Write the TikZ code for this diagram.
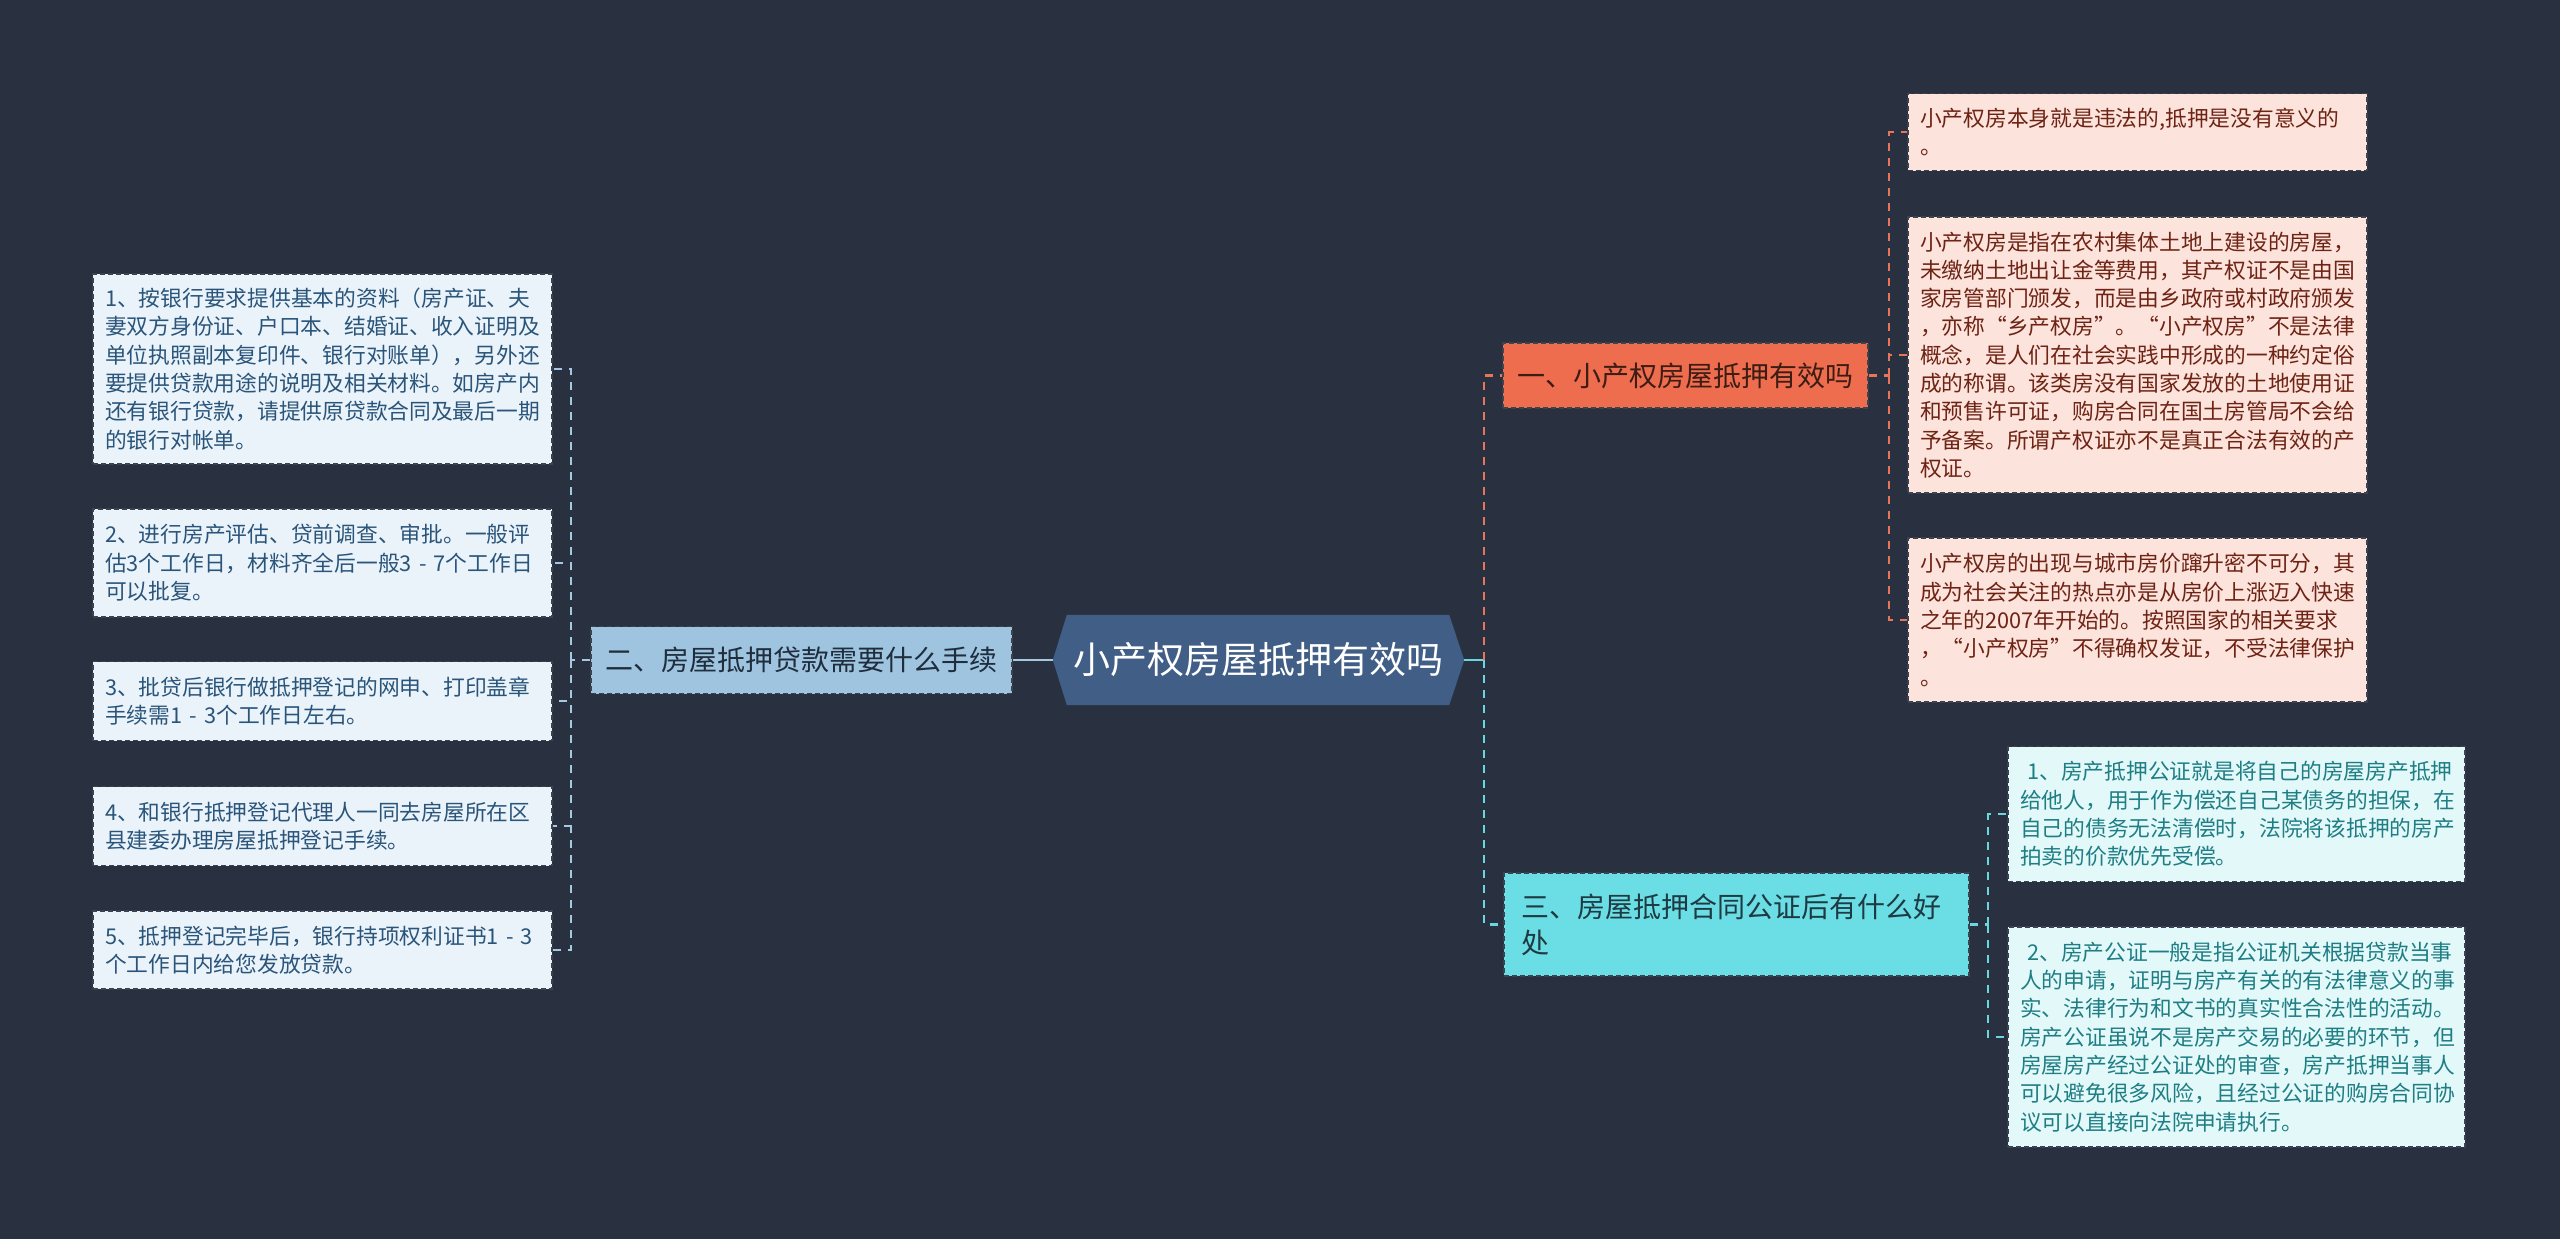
\documentclass[tikz,border=0pt]{standalone}
\usepackage{fontspec}
\setmainfont{Noto Sans CJK SC}
\usetikzlibrary{calc}
\definecolor{bgcol}{HTML}{293140}
\definecolor{rootfill}{HTML}{405E86}
\definecolor{bluefill}{HTML}{9EC4DF}
\definecolor{bluetext}{HTML}{1F2D3D}
\definecolor{leafbfill}{HTML}{EBF3FA}
\definecolor{leafbtext}{HTML}{2A557A}
\definecolor{bluecon}{HTML}{A6C9E2}
\definecolor{orangefill}{HTML}{EE6D4F}
\definecolor{orangetext}{HTML}{3D1C14}
\definecolor{pinkfill}{HTML}{FCE3DC}
\definecolor{pinktext}{HTML}{6E2314}
\definecolor{orangecon}{HTML}{E8745A}
\definecolor{cyanfill}{HTML}{6BDDE4}
\definecolor{cyantext}{HTML}{1E3A42}
\definecolor{leafcfill}{HTML}{E2F8F9}
\definecolor{leafctext}{HTML}{1F7E84}
\definecolor{cyancon}{HTML}{6AD6E0}
\definecolor{bordercol}{HTML}{3B4350}
\pgfdeclarelayer{background}
\pgfdeclarelayer{backmost}
\pgfsetlayers{backmost,background,main}
\begin{document}
\begin{tikzpicture}[x=1pt,y=-1pt,
  boxborder/.style={draw=bordercol, line width=1.5pt, dash pattern=on 5pt off 3pt},
  leafbox/.style={boxborder, align=left, inner xsep=12pt, inner ysep=0pt,
    font={\fontsize{21.75pt}{28.3pt}\selectfont}},
  leafblue/.style={leafbox, fill=leafbfill, text=leafbtext, text width=435pt},
  leafpink/.style={leafbox, fill=pinkfill, text=pinktext, text width=435pt},
  leafcyan/.style={leafbox, fill=leafcfill, text=leafctext, text width=433pt},
  mainbox/.style={boxborder, inner sep=0pt, font={\fontsize{28pt}{36pt}\selectfont}},
  conblue/.style={draw=bluecon, line width=2.5pt, dash pattern=on 8pt off 7pt},
  conorange/.style={draw=orangecon, line width=2.5pt, dash pattern=on 8pt off 7pt},
  concyan/.style={draw=cyancon, line width=2.5pt, dash pattern=on 8pt off 7pt}]
\useasboundingbox (0,0) rectangle (2560,1239);
\begin{pgfonlayer}{backmost}
\fill[bgcol] (0,0) rectangle (2560,1239);
\end{pgfonlayer}

% root
\node[minimum width=411pt, minimum height=90pt, inner sep=0pt, text=white,
  font={\fontsize{37pt}{44pt}\selectfont}] (root) at (1258.5,660) {小产权房屋抵押有效吗};
\begin{pgfonlayer}{background}
\fill[rootfill] ([xshift=14pt]root.north west) -- (root.west) -- ([xshift=14pt]root.south west)
  -- ([xshift=-15pt]root.south east) -- (root.east) -- ([xshift=-15pt]root.north east) -- cycle;
\end{pgfonlayer}

% left branch
\node[mainbox, fill=bluefill, text=bluetext, minimum width=421pt, minimum height=67pt] (n2) at (801.5,660) {二、房屋抵押贷款需要什么手续};

\node[leafblue, minimum height=190pt] (l1) at (322.5,369) {1、按银行要求提供基本的资料（房产证、夫\\妻双方身份证、户口本、结婚证、收入证明及\\单位执照副本复印件、银行对账单），另外还\\要提供贷款用途的说明及相关材料。如房产内\\还有银行贷款，请提供原贷款合同及最后一期\\的银行对帐单。};
\node[leafblue, minimum height=108pt] (l2) at (322.5,563) {2、进行房产评估、贷前调查、审批。一般评\\估3个工作日，材料齐全后一般3 - 7个工作日\\可以批复。};
\node[leafblue, minimum height=79pt] (l3) at (322.5,701) {3、批贷后银行做抵押登记的网申、打印盖章\\手续需1 - 3个工作日左右。};
\node[leafblue, minimum height=79pt] (l4) at (322.5,826) {4、和银行抵押登记代理人一同去房屋所在区\\县建委办理房屋抵押登记手续。};
\node[leafblue, minimum height=78pt] (l5) at (322.5,950) {5、抵押登记完毕后，银行持项权利证书1 - 3\\个工作日内给您发放贷款。};

% right branch 1
\node[mainbox, fill=orangefill, text=orangetext, minimum width=365pt, minimum height=65pt] (n1) at (1685.5,375.5) {一、小产权房屋抵押有效吗};

\node[leafpink, minimum height=77pt] (p1) at (2137.5,132) {小产权房本身就是违法的,抵押是没有意义的\\。};
\node[leafpink, minimum height=276pt] (p2) at (2137.5,355) {小产权房是指在农村集体土地上建设的房屋，\\未缴纳土地出让金等费用，其产权证不是由国\\家房管部门颁发，而是由乡政府或村政府颁发\\，亦称“乡产权房”。“小产权房”不是法律\\概念，是人们在社会实践中形成的一种约定俗\\成的称谓。该类房没有国家发放的土地使用证\\和预售许可证，购房合同在国土房管局不会给\\予备案。所谓产权证亦不是真正合法有效的产\\权证。};
\node[leafpink, minimum height=164pt] (p3) at (2137.5,620) {小产权房的出现与城市房价蹿升密不可分，其\\成为社会关注的热点亦是从房价上涨迈入快速\\之年的2007年开始的。按照国家的相关要求\\，“小产权房”不得确权发证，不受法律保护\\。};

% right branch 3
\node[mainbox, fill=cyanfill, text=cyantext, minimum width=465pt, minimum height=103pt,
  text width=431pt, align=left] (n3) at (1736.5,924.5) {三、房屋抵押合同公证后有什么好\\处};

\node[leafcyan, minimum height=135pt] (c1) at (2236.5,814) {\ 1、房产抵押公证就是将自己的房屋房产抵押\\给他人，用于作为偿还自己某债务的担保，在\\自己的债务无法清偿时，法院将该抵押的房产\\拍卖的价款优先受偿。};
\node[leafcyan, minimum height=220pt] (c2) at (2236.5,1037) {\ 2、房产公证一般是指公证机关根据贷款当事\\人的申请，证明与房产有关的有法律意义的事\\实、法律行为和文书的真实性合法性的活动。\\房产公证虽说不是房产交易的必要的环节，但\\房屋房产经过公证处的审查，房产抵押当事人\\可以避免很多风险，且经过公证的购房合同协\\议可以直接向法院申请执行。};

% connector junctions
\coordinate (lj) at (571,660);
\coordinate (rj) at (1484,660);
\coordinate (pj) at (1889,375.5);
\coordinate (cj) at (1988,924.5);

% root connectors
\draw[bluecon, line width=2.5pt] (root.west) -- (n2.east);
\draw[cyancon, line width=2.5pt] (root.east) -- (rj);
\draw[conorange] (rj) |- (n1.west);
\draw[concyan] (rj) |- (n3.west);

% left bracket
\draw[conblue] (n2.west) -- (lj);
\draw[conblue] (lj) |- (l1.east);
\draw[conblue] (lj) |- (l2.east);
\draw[conblue] (lj) |- (l3.east);
\draw[conblue] (lj) |- (l4.east);
\draw[conblue] (lj) |- (l5.east);

% pink bracket
\draw[conorange] (n1.east) -- (pj);
\draw[conorange] (pj) |- (p1.west);
\draw[conorange] (pj) |- (p2.west);
\draw[conorange] (pj) |- (p3.west);

% cyan bracket
\draw[concyan] (n3.east) -- (cj);
\draw[concyan] (cj) |- (c1.west);
\draw[concyan] (cj) |- (c2.west);
\end{tikzpicture}
\end{document}
